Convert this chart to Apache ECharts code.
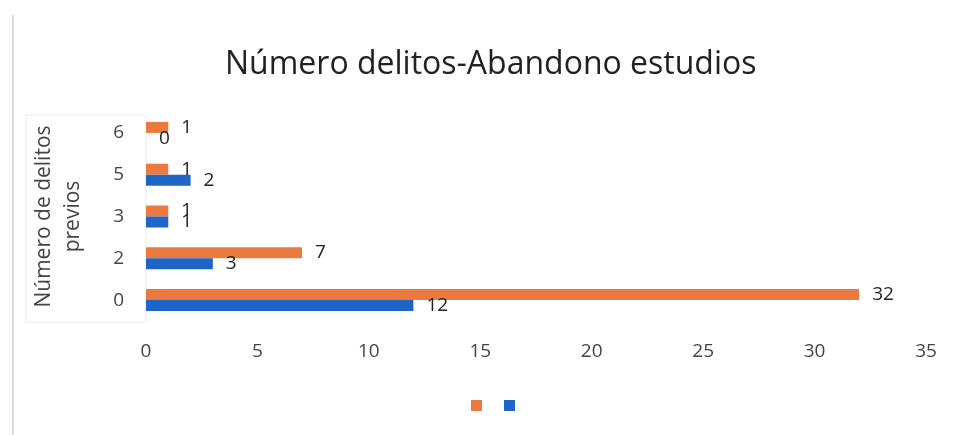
<!DOCTYPE html>
<html>
<head>
<meta charset="utf-8">
<script src="https://cdn.jsdelivr.net/npm/echarts@6/dist/echarts.min.js"></script>
<style>
  html, body { margin: 0; padding: 0; background: #ffffff; }
  #chart { width: 956px; height: 435px; }
</style>
</head>
<body>
<div id="chart"></div>
<script>
// Number of previous offences (category axis, bottom to top)
const categories = ['0', '2', '3', '5', '6'];
// Counts per category for the two groups
const seriesOrange = [32, 7, 1, 1, 1];
const seriesBlue = [12, 3, 1, 2, 0];
// Value axis ticks
const xTicks = [0, 5, 10, 15, 20, 25, 30, 35];

const FONT = '"Open Sans", Lato, sans-serif';
const ORANGE = '#ec7a3e';
const BLUE = '#1f65c6';

const chart = echarts.init(document.getElementById('chart'));

const labelStyle = {
  show: true,
  position: 'right',
  distance: 13,
  fontFamily: FONT,
  fontSize: 19,
  color: '#222'
};

chart.setOption({
  backgroundColor: '#ffffff',
  animation: false,
  title: {
    text: 'Número delitos-Abandono estudios',
    left: 220,
    top: 44,
    textStyle: { fontFamily: FONT, fontSize: 32, fontWeight: 'normal', color: '#222' }
  },
  graphic: [
    { type: 'line', shape: { x1: 13, y1: 15, x2: 13, y2: 435 }, style: { stroke: '#dcdcdc', lineWidth: 2 } },
    { type: 'rect', shape: { x: 26, y: 115, width: 120, height: 207 }, style: { fill: 'none', stroke: '#ececec', lineWidth: 1 }, z: -1 }
  ],
  legend: {
    bottom: 19,
    left: 466,
    icon: 'rect',
    itemWidth: 11,
    itemHeight: 11,
    itemGap: 22,
    data: ['orange', 'blue'],
    formatter: () => '',
    selectedMode: false
  },
  grid: { left: 146, right: 30, top: 112, bottom: 114, containLabel: false },
  xAxis: {
    type: 'value',
    min: xTicks[0],
    max: xTicks[xTicks.length - 1],
    interval: 5,
    axisLine: { show: false },
    axisTick: { show: false },
    splitLine: { show: false },
    axisLabel: { fontFamily: FONT, fontSize: 19, color: '#444', margin: 21 }
  },
  yAxis: {
    type: 'category',
    data: categories,
    name: 'Número de delitos\nprevios',
    nameLocation: 'middle',
    nameGap: 58,
    nameRotate: 90,
    nameTextStyle: { fontFamily: FONT, fontSize: 21, color: '#444', lineHeight: 29 },
    axisLine: { show: false },
    axisTick: { show: false },
    splitLine: { show: false },
    axisLabel: { fontFamily: FONT, fontSize: 19, color: '#444', margin: 22 }
  },
  series: [
    {
      name: 'orange',
      type: 'bar',
      data: seriesOrange,
      barWidth: 11,
      barGap: '0%',
      itemStyle: { color: ORANGE },
      label: labelStyle
    },
    {
      name: 'blue',
      type: 'bar',
      data: seriesBlue,
      barWidth: 11,
      barGap: '0%',
      itemStyle: { color: BLUE },
      label: labelStyle
    }
  ]
});
</script>
</body>
</html>
